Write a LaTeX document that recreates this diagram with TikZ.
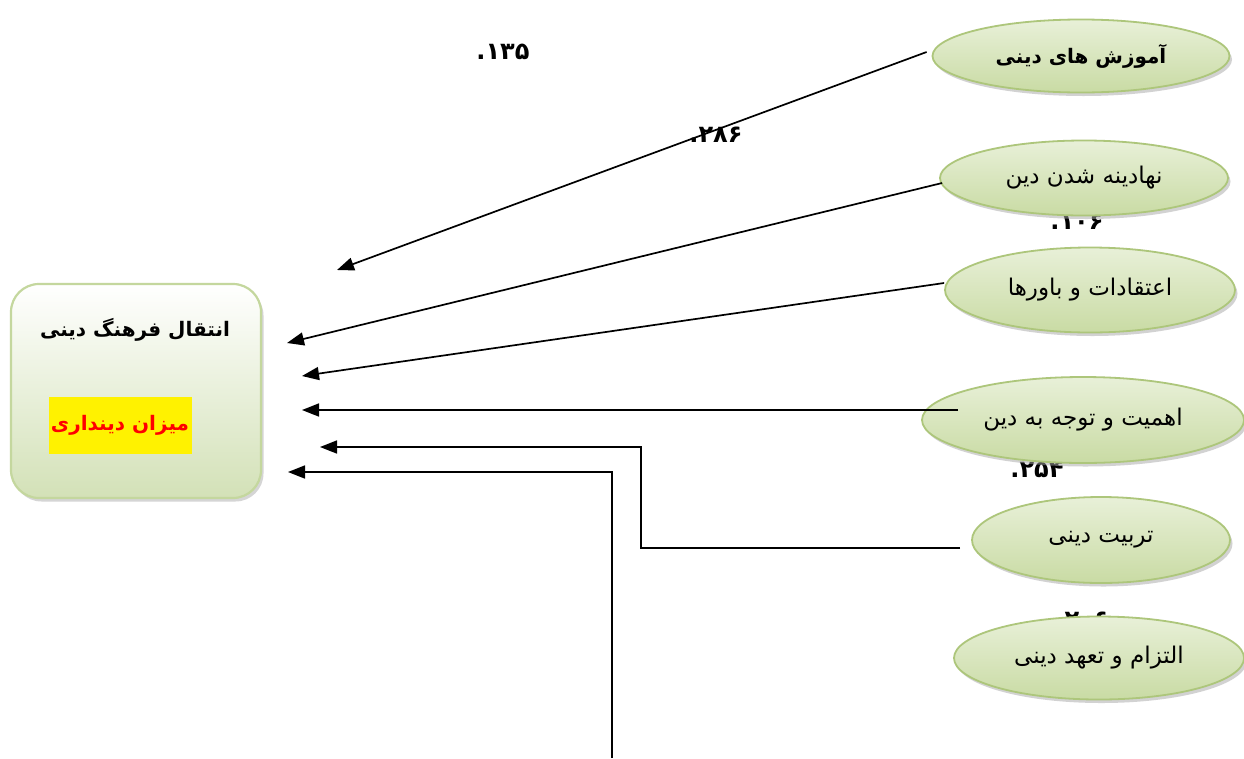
\documentclass[tikz,border=0pt]{standalone}
\usepackage{fontspec}
\TeXXeTstate=1
\newfontfamily\arabicfont[Script=Arabic]{DejaVu Sans}
\newfontfamily\digitfont{DejaVu Sans}
\usetikzlibrary{shapes.geometric,shadows,arrows.meta}
\definecolor{ovaltop}{HTML}{E8F0D8}
\definecolor{ovalbot}{HTML}{C9DBA4}
\definecolor{ovalline}{HTML}{ADC67B}
\definecolor{boxline}{HTML}{C4D79E}
\definecolor{boxbot}{HTML}{D3E1B7}
\begin{document}
\begin{tikzpicture}[x=1pt, y=-1pt,
                    oval/.style={ellipse, draw=ovalline, line width=1.8pt, top color=ovaltop, bottom color=ovalbot,
                                 drop shadow={shadow xshift=2.5pt, shadow yshift=-3.5pt, fill=gray!70}, font=\arabicfont\fontsize{23}{26}\selectfont},
                    coef/.style={font=\digitfont\bfseries\fontsize{24}{26}\selectfont},
                    link/.style={-{Triangle[length=17pt,width=13pt]}, line width=1.7pt}]
\useasboundingbox[fill=white] (0,0) rectangle (1244,758);

% coefficients, some of them sit behind the ovals
\node[coef] (c1) at (503,52) {.۱۳۵};
\node[coef] (c2) at (716,135) {.۲۸۶};
\node[coef] (c3) at (1077,222) {.۱۰۶};
\node[coef] (c4) at (1037,470) {.۲۵۴};
\node[coef] (c6) at (1082,620) {.۲۰۶};

% left box
\node[draw=boxline, line width=2.2pt, rounded corners=28pt, top color=white, bottom color=boxbot,
      minimum width=250pt, minimum height=214pt,
      drop shadow={shadow xshift=2.5pt, shadow yshift=-3.5pt, fill=gray!65}] (enteghal) at (136,391) {};
\node[font=\arabicfont\bfseries\fontsize{20}{24}\selectfont] (title) at (135,330) {\beginR انتقال فرهنگ دینی\endR};
\node[fill=yellow, text=red, font=\arabicfont\bfseries\fontsize{20}{24}\selectfont,
      minimum width=143pt, minimum height=57pt, inner sep=1pt] (dindari) at (120,425) {\beginR میزان دینداری\endR};

% ovals
\node[oval, minimum width=297pt, minimum height=73pt, font=\arabicfont\bfseries\fontsize{20}{24}\selectfont] (amoozesh) at (1081,56) {\beginR آموزش های دینی\endR};
\node[oval, minimum width=288pt, minimum height=75pt] (nahadine) at (1084,178) {\beginR نهادینه شدن دین\endR};
\node[oval, minimum width=290pt, minimum height=85pt] (eteghadat) at (1090,290) {\beginR اعتقادات و باورها\endR};
\node[oval, minimum width=322pt, minimum height=86pt] (ahamiat) at (1083,420) {\beginR اهمیت و توجه به دین\endR};
\node[oval, minimum width=258pt, minimum height=86pt] (tarbiat) at (1101,540) {\beginR تربیت دینی\endR};
\node[oval, minimum width=290pt, minimum height=83pt] (eltezam) at (1099,658) {\beginR التزام و تعهد دینی\endR};

% arrow ends
\coordinate (t1) at (337,270);
\coordinate (t2) at (287,343);
\coordinate (t3) at (302,376);
\coordinate (t4) at (302,410);
\coordinate (t5) at (320,447);
\coordinate (t6) at (288,472);
\coordinate (s4) at (958,410);
\coordinate (s5) at (960,548);
\coordinate (s6) at (612,758);

\draw[link] (amoozesh.west) ++(-5,-4) -- (t1);
\draw[link] (nahadine.west) ++(3,5) -- (t2);
\draw[link] (eteghadat.west) ++(0,-7) -- (t3);
\draw[link] (s4) -- (t4);
\draw[link] (s5) -- ++(-319,0) |- (t5);
\draw[link] (s6) |- (t6);
\end{tikzpicture}
\end{document}
